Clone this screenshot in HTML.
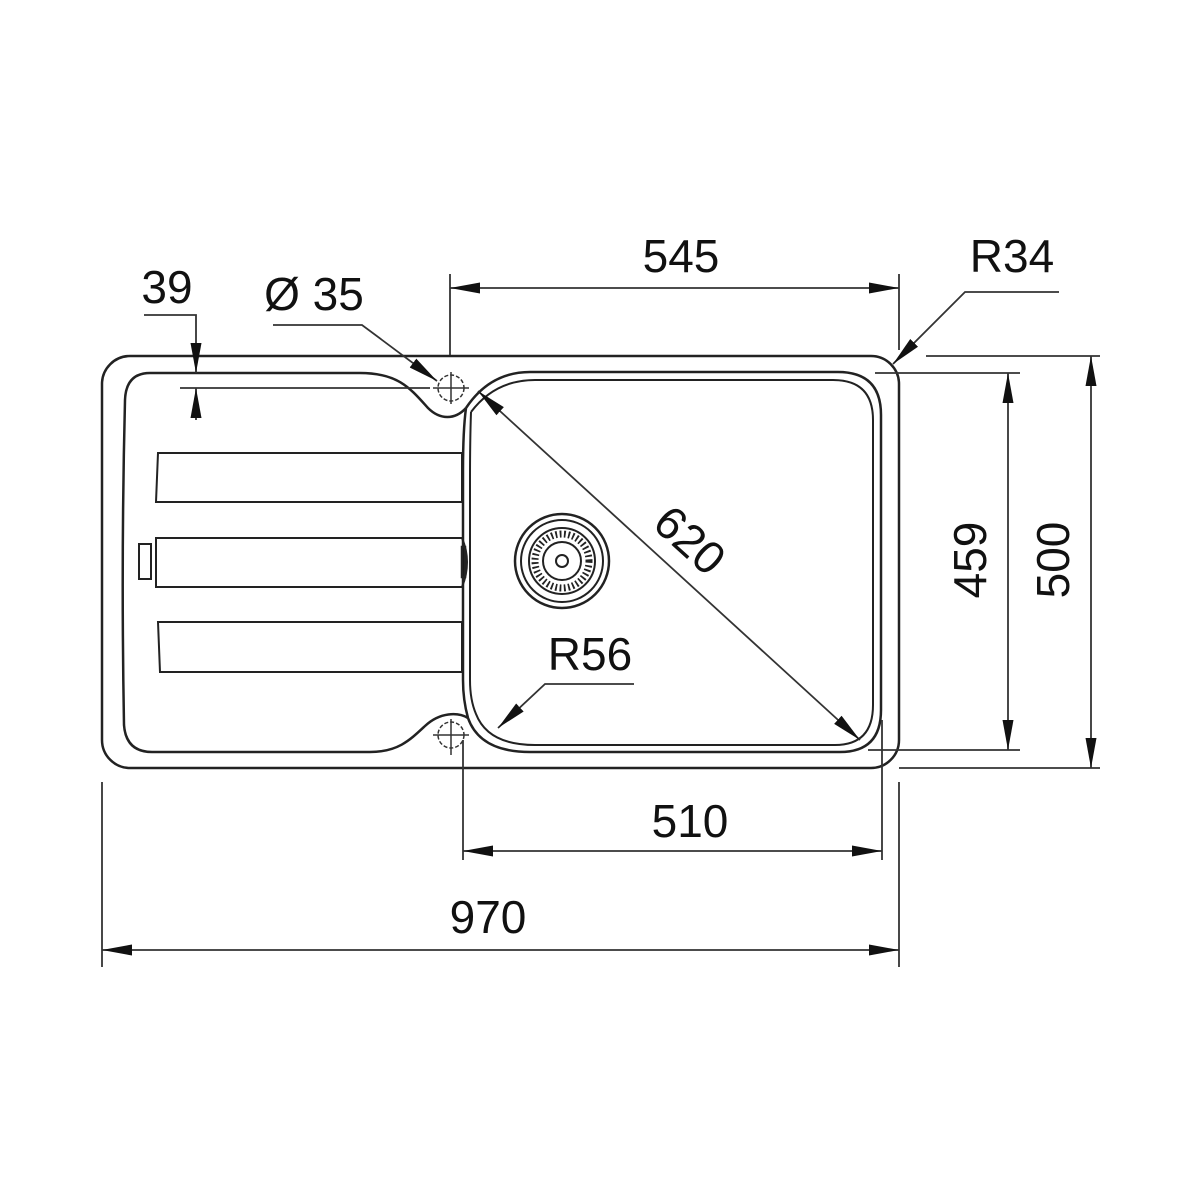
<!DOCTYPE html>
<html><head><meta charset="utf-8"><style>
html,body{margin:0;padding:0;background:#fff}
svg{display:block}
text{font-family:"Liberation Sans",Arial,sans-serif;fill:#111}
</style></head><body>
<svg width="1200" height="1200" viewBox="0 0 1200 1200" xmlns="http://www.w3.org/2000/svg">
<defs>
<marker id="b" viewBox="0 0 30 12" refX="30" refY="6" markerWidth="30" markerHeight="12" markerUnits="userSpaceOnUse" orient="auto-start-reverse"><path d="M0,0.5 L30,6 L0,11.5 z" fill="#111"/></marker>
</defs>
<g fill="none" stroke="#222" stroke-width="2.5">
<rect x="102" y="356" width="797" height="412" rx="28" ry="28"/>
<path d="M466 408 Q463 430 463 470 L463 680 Q463 700 468 718 Q480 752 530 752 L840 752 Q881 752 881 710 L881 415 Q881 372 838 372 L530 372 Q490 372 466 408"/>
<path d="M471 412 Q470 440 470 480 L470 680 Q470 700 476 714 Q488 745 535 745 L835 745 Q873 745 873 705 L873 420 Q873 380 833 380 L535 380 Q495 380 471 412" stroke-width="2"/>
<path d="M466 408 C455 420 440 420 428 408 C410 388 398 373 360 373 L150 373 Q126 373 125 400 Q121 560 124 725 Q126 752 152 752 L370 752 C398 752 410 740 425 726 C440 712 458 712 468 718"/>
<path d="M158 453 L462 453 L462 502 L156 502 Z" stroke-width="2"/>
<path d="M156 538 L462 538 Q467 550 467 562 Q467 575 462 587 L156 587 Z" stroke-width="2"/>
<path d="M158 622 L462 622 L462 672 L160 672 Z" stroke-width="2"/>
<rect x="139" y="544" width="12" height="35" stroke-width="2"/>
<rect x="462" y="547" width="3" height="30" fill="#111"/>
</g>
<g fill="none" stroke="#333" stroke-width="1.5">
<circle cx="451" cy="388" r="13" stroke-dasharray="4 2"/>
<line x1="433" y1="388" x2="469" y2="388"/><line x1="451" y1="372" x2="451" y2="404"/>
<circle cx="451" cy="735" r="13" stroke-dasharray="4 2"/>
<line x1="433" y1="735" x2="469" y2="735"/><line x1="451" y1="719" x2="451" y2="755"/>
</g>
<g fill="none" stroke="#222">
<circle cx="562" cy="561" r="47" stroke-width="2.5"/>
<circle cx="562" cy="561" r="41" stroke-width="2"/>
<circle cx="562" cy="561" r="33" stroke-width="2"/>
<circle cx="562" cy="561" r="27" stroke-width="7" stroke-dasharray="1.8 2.5"/>
<circle cx="562" cy="561" r="19" stroke-width="2"/>
<circle cx="562" cy="561" r="6" stroke-width="2"/>
</g>
<g fill="none" stroke="#333" stroke-width="1.8">
<line x1="450" y1="274" x2="450" y2="355"/><line x1="899" y1="274" x2="899" y2="350"/>
<line x1="450" y1="288" x2="899" y2="288" marker-start="url(#b)" marker-end="url(#b)"/>
<polyline points="1059,292 965,292 893,364" marker-end="url(#b)"/>
<polyline points="144,315 196,315 196,373" marker-end="url(#b)"/>
<line x1="196" y1="420" x2="196" y2="388" marker-end="url(#b)"/>
<line x1="180" y1="388" x2="430" y2="388"/>
<polyline points="273,325 362,325 437,381" marker-end="url(#b)"/>
<line x1="478" y1="391" x2="860" y2="740" marker-start="url(#b)" marker-end="url(#b)"/>
<polyline points="634,684 545,684 498,728" marker-end="url(#b)"/>
<line x1="875" y1="373" x2="1020" y2="373"/><line x1="868" y1="750" x2="1020" y2="750"/>
<line x1="1008" y1="373" x2="1008" y2="750" marker-start="url(#b)" marker-end="url(#b)"/>
<line x1="926" y1="356" x2="1100" y2="356"/><line x1="899" y1="768" x2="1100" y2="768"/>
<line x1="1091" y1="356" x2="1091" y2="768" marker-start="url(#b)" marker-end="url(#b)"/>
<line x1="463" y1="740" x2="463" y2="860"/><line x1="882" y1="720" x2="882" y2="860"/>
<line x1="463" y1="851" x2="882" y2="851" marker-start="url(#b)" marker-end="url(#b)"/>
<line x1="102" y1="782" x2="102" y2="967"/><line x1="899" y1="782" x2="899" y2="967"/>
<line x1="102" y1="950" x2="899" y2="950" marker-start="url(#b)" marker-end="url(#b)"/>
</g>
<g font-size="46">
<text x="681" y="272" text-anchor="middle">545</text>
<text x="1012" y="272" text-anchor="middle">R34</text>
<text x="167" y="303" text-anchor="middle">39</text>
<text x="314" y="310" text-anchor="middle">Ø 35</text>
<text x="590" y="670" text-anchor="middle">R56</text>
<text x="690" y="837" text-anchor="middle">510</text>
<text x="488" y="933" text-anchor="middle">970</text>
<text transform="translate(690,540) rotate(42)" text-anchor="middle" y="16">620</text>
<text transform="translate(970,560) rotate(-90)" text-anchor="middle" y="16">459</text>
<text transform="translate(1053,560) rotate(-90)" text-anchor="middle" y="16">500</text>
</g>
</svg>
</body></html>
